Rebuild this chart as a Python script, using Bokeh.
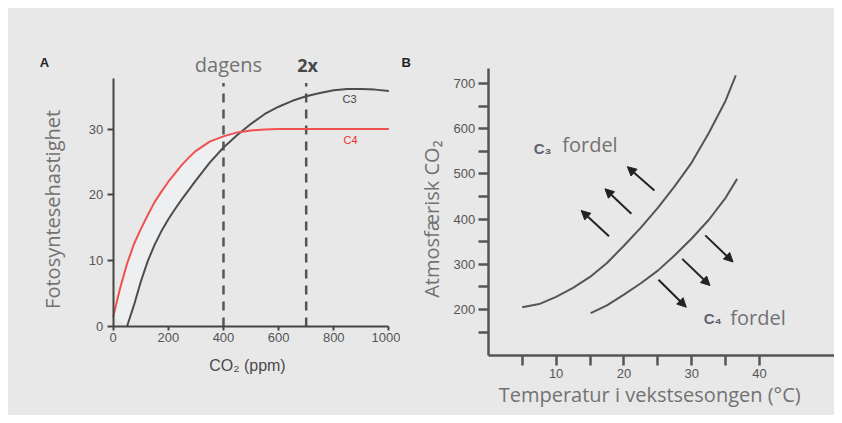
import numpy as np
from bokeh.plotting import figure
from bokeh.layouts import row
from bokeh.models import (Range1d, FixedTicker, Label, Arrow, NormalHead,
                          ColumnDataSource)
from bokeh.embed import file_html
from bokeh.resources import INLINE

# ---------------- data: panel A ----------------
ppm = [0, 25, 50, 75, 100, 125, 150, 175, 200, 225, 250, 275, 300, 350, 400,
       450, 500, 550, 600, 650, 700, 750, 800, 850, 900, 950, 1000]
c4_rate = [1.5, 5.8, 9.5, 12.5, 14.8, 16.9, 18.9, 20.5, 22.0, 23.3, 24.6, 25.7,
           26.7, 28.1, 28.9, 29.5, 29.8, 29.95, 30.0, 30.0, 30.0, 30.0, 30.0,
           30.0, 30.0, 30.0, 30.0]
c3_rate = [np.nan, np.nan, 0.0, 3.2, 6.8, 9.9, 12.4, 14.5, 16.3, 17.9, 19.4,
           20.8, 22.2, 24.9, 27.2, 29.1, 30.8, 32.3, 33.4, 34.3, 35.0, 35.5,
           35.9, 36.1, 36.1, 36.0, 35.8]
a_xticks = [0, 200, 400, 600, 800, 1000]
a_yticks = [0, 10, 20, 30]
co2_marks = [400, 700]
co2_mark_names = ["dagens", "2x"]

# ---------------- data: panel B ----------------
temp_upper = [5.0, 7.5, 10.0, 12.5, 15.0, 17.5, 20.0, 22.5, 25.0, 27.5, 30.0, 32.5, 35.0, 36.5]
co2_upper = [205, 212, 228, 248, 272, 303, 341, 381, 425, 473, 525, 590, 662, 718]
temp_lower = [15.1, 17.5, 20.0, 22.5, 25.0, 27.5, 30.0, 32.5, 35.0, 36.7]
co2_lower = [192, 209, 233, 258, 286, 320, 357, 398, 447, 489]
b_xticks = [5, 10, 15, 20, 25, 30, 35, 40]
b_xlabels = {5: "", 10: "10", 15: "", 20: "20", 25: "", 30: "30", 35: "", 40: "40"}
b_yticks = [150, 200, 250, 300, 350, 400, 450, 500, 550, 600, 650, 700]
b_ylabels = {150: "", 200: "200", 250: "", 300: "300", 350: "", 400: "400",
             450: "", 500: "500", 550: "", 600: "600", 650: "", 700: "700"}
arrow_x0 = [24.5, 21.1, 17.8, 32.0, 28.6, 25.1]
arrow_y0 = [463, 412, 362, 364, 312, 266]
arrow_x1 = [20.5, 17.2, 13.7, 36.1, 32.7, 29.2]
arrow_y1 = [516, 467, 419, 305, 253, 205]

BG = "#e8e8e8"
TITLE_FONT = "Open Sans"
TICK_FONT = "Liberation Sans"
GREY_TXT = "#727272"
TITLE_SIZE = "20px"


def lab(p, x, y, text, font=TITLE_FONT, size=TITLE_SIZE, color=GREY_TXT,
        style="normal", align="center", angle=0.0):
    p.add_layout(Label(x=x, y=y, text=text, text_font=font, text_font_size=size,
                       text_color=color, text_font_style=style, text_align=align,
                       text_baseline="middle", angle=angle))


def style_axis(ax, color, width, tick_out, standoff):
    ax.axis_line_color = color
    ax.axis_line_width = width
    ax.major_tick_line_color = color
    ax.major_tick_line_width = width
    ax.major_tick_in = 0
    ax.major_tick_out = tick_out
    ax.minor_tick_line_color = None
    ax.major_label_standoff = standoff
    ax.major_label_text_font = TICK_FONT
    ax.major_label_text_font_size = "13px"
    ax.major_label_text_color = "#555555"


# ---------------- panel A ----------------
pA = figure(width=392, height=407, x_range=Range1d(-379.8, 1042.1), y_range=Range1d(-13.53, 48.33),
            output_backend="svg", toolbar_location=None, min_border=0,
            background_fill_color=BG, border_fill_color=BG, outline_line_color=None)
pA.grid.visible = False

ppm_a = np.array(ppm, dtype=float)
c4_a = np.array(c4_rate)
c3_a = np.array(c3_rate)
m4 = ppm_a <= 450
m3 = (ppm_a <= 450) & ~np.isnan(c3_a)
poly_x = np.concatenate([ppm_a[m4], ppm_a[m3][::-1]])
poly_y = np.concatenate([c4_a[m4], c3_a[m3][::-1]])
pA.patch(poly_x, poly_y, fill_color="#eeeff0", line_color=None)

pA.segment(x0=co2_marks, y0=[0, 0], x1=co2_marks, y1=[37, 37],
           line_color="#555555", line_width=2.5, line_dash="9 7")
pA.line(ppm, c3_rate, line_color="#4d4d4d", line_width=2)
pA.line(ppm, c4_rate, line_color="#f05050", line_width=2)

style_axis(pA.xaxis[0], "#444444", 2, 4, 3)
style_axis(pA.yaxis[0], "#444444", 2, 6, 4)
pA.xaxis.ticker = FixedTicker(ticks=a_xticks)
pA.xaxis.bounds = (0, 1000)
pA.xaxis.fixed_location = 0
pA.yaxis.ticker = FixedTicker(ticks=a_yticks)
pA.yaxis.bounds = (0, 37.7)
pA.yaxis.fixed_location = 0

lab(pA, -220, 17.8, "Fotosyntesehastighet", angle=np.pi / 2)
lab(pA, 487, -6.0, "CO₂ (ppm)", font=TICK_FONT, size="16px", color="#4a4a4a")
lab(pA, -249, 40.1, "A", font=TICK_FONT, size="13px", color="#222222", style="bold")
lab(pA, co2_marks[0] + 18, 39.8, co2_mark_names[0])
lab(pA, co2_marks[1] + 5, 39.8, co2_mark_names[1], color="#484848", style="bold", size="18px")
lab(pA, 857, 34.5, "C3", font=TICK_FONT, size="11px", color="#444444")
lab(pA, 861, 28.4, "C4", font=TICK_FONT, size="11px", color="#f03030")

# ---------------- panel B ----------------
pB = figure(width=434, height=407, x_range=Range1d(-12.95, 51.06), y_range=Range1d(-34.5, 865.9),
            output_backend="svg", toolbar_location=None, min_border=0,
            background_fill_color=BG, border_fill_color=BG, outline_line_color=None)
pB.grid.visible = False

pB.line(temp_upper, co2_upper, line_color="#555555", line_width=2)
pB.line(temp_lower, co2_lower, line_color="#555555", line_width=2)

arr_src = ColumnDataSource(dict(x0=arrow_x0, y0=arrow_y0, x1=arrow_x1, y1=arrow_y1))
pB.add_layout(Arrow(source=arr_src, x_start="x0", y_start="y0", x_end="x1", y_end="y1",
                    line_color="#222222", line_width=2,
                    end=NormalHead(size=9, fill_color="#222222", line_color="#222222")))

style_axis(pB.xaxis[0], "#555555", 2.5, 10, 3)
style_axis(pB.yaxis[0], "#555555", 2.5, 10, 3)
pB.xaxis.ticker = FixedTicker(ticks=b_xticks)
pB.xaxis.major_label_overrides = b_xlabels
pB.xaxis.bounds = (0, 51.0)
pB.xaxis.fixed_location = 98
pB.yaxis.ticker = FixedTicker(ticks=b_yticks)
pB.yaxis.major_label_overrides = b_ylabels
pB.yaxis.bounds = (98, 734)
pB.yaxis.fixed_location = 0

lab(pB, -8.4, 400, "Atmosfærisk CO₂", angle=np.pi / 2)
lab(pB, 23.8, 12, "Temperatur i vekstsesongen (°C)")
lab(pB, -12.1, 746, "B", font=TICK_FONT, size="13px", color="#222222", style="bold")
lab(pB, 8.0, 557, "C₃", font=TICK_FONT, size="15px", color="#5c6270", style="bold")
lab(pB, 10.9, 566, "fordel", align="left")
lab(pB, 33.1, 179, "C₄", font=TICK_FONT, size="15px", color="#5c6270", style="bold")
lab(pB, 35.7, 182, "fordel", align="left")

layout = row(pA, pB, margin=(8, 8, 8, 8), spacing=0,
             styles={"background-color": BG})
open("out.html", "w").write(file_html(layout, INLINE))
